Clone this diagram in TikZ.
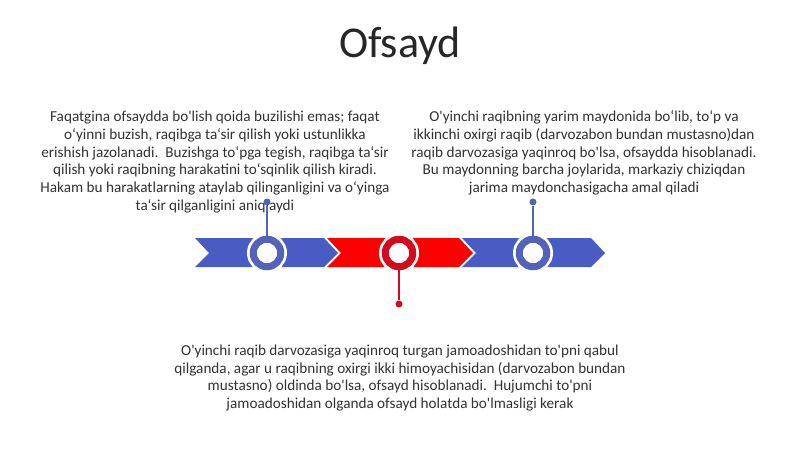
\documentclass[tikz,border=0pt]{standalone}
\usepackage{fontspec}
\setmainfont{Carlito}
\newfontfamily\notefont{Carlito}
\usepackage{tikz}
\definecolor{bandblue}{RGB}{72,92,196}
\definecolor{ringblue}{RGB}{84,98,186}
\definecolor{bandred}{RGB}{255,0,0}
\definecolor{ringred}{RGB}{212,10,30}
\definecolor{textgray}{RGB}{50,50,50}
\tikzset{
    ring/.style={circle, draw=#1, fill=white, line width=7pt, minimum size=27.5pt,
    	inner sep=0pt, preaction={draw=white, line width=12.5pt}}
}
\tikzset{
    pin/.style={circle, fill=#1, minimum size=7pt, inner sep=0pt}
}
\tikzset{
    note/.style={align=center, inner sep=0pt, text=textgray,
    	font=\notefont\fontsize{15.2}{17.7}\selectfont}
}

\begin{document}
\begin{tikzpicture}[x=1pt, y=-1pt]
	\useasboundingbox (0,0) rectangle (800,449);
	\node [inner sep=0pt, text={rgb,255:red,38;green,38;blue,38},
		font=\fontsize{44}{50}\selectfont] (title) at (400,46) {Ofsayd};
	% texts
	\node [note] (left) at (215,162) {Faqatgina ofsaydda bo'lish qoida buzilishi emas; faqat\\
		o‘yinni buzish, raqibga ta‘sir qilish yoki ustunlikka\\
		erishish jazolanadi.\ \ Buzishga to‘pga tegish, raqibga ta‘sir\\
		qilish yoki raqibning harakatini to‘sqinlik qilish kiradi.\\
		Hakam bu harakatlarning ataylab qilinganligini va o‘yinga\\
		ta‘sir qilganligini aniqlaydi};
	\node [note] (right) at (584,153) {O'yinchi raqibning yarim maydonida bo‘lib, to‘p va\\
		ikkinchi oxirgi raqib (darvozabon bundan mustasno)dan\\
		raqib darvozasiga yaqinroq bo'lsa, ofsaydda hisoblanadi.\\
		Bu maydonning barcha joylarida, markaziy chiziqdan\\
		jarima maydonchasigacha amal qiladi};
	\node [note] (bottom) at (400,378) {O'yinchi raqib darvozasiga yaqinroq turgan jamoadoshidan to'pni qabul\\
		qilganda, agar u raqibning oxirgi ikki himoyachisidan (darvozabon bundan\\
		mustasno) oldinda bo'lsa, ofsayd hisoblanadi.\ \ Hujumchi to'pni\\
		jamoadoshidan olganda ofsayd holatda bo'lmasligi kerak};
	% band
	\fill [bandblue] (195,238) -- (324,238) -- (338,253) -- (324,267) -- (195,267) -- (209,253) -- cycle;
	\fill [bandred] (327,238) -- (459,238) -- (473,253) -- (459,267) -- (327,267) -- (341,253) -- cycle;
	\fill [bandblue] (462,238) -- (591,238) -- (605,253) -- (591,267) -- (462,267) -- (476,253) -- cycle;
	% rings and pins
	\node [ring=ringblue] (r1) at (267,253) {};
	\node [ring=ringred] (r2) at (399,253) {};
	\node [ring=ringblue] (r3) at (533,253) {};
	\node [pin=ringblue] (p1) at (267,202) {};
	\node [pin=ringred] (p2) at (399,304) {};
	\node [pin=ringblue] (p3) at (533,202) {};
	\draw [ringblue, line width=1.5pt] (p1) edge (r1);
	\draw [ringred, line width=1.5pt] (p2) edge (r2);
	\draw [ringblue, line width=1.5pt] (p3) edge (r3);
\end{tikzpicture}
\end{document}
